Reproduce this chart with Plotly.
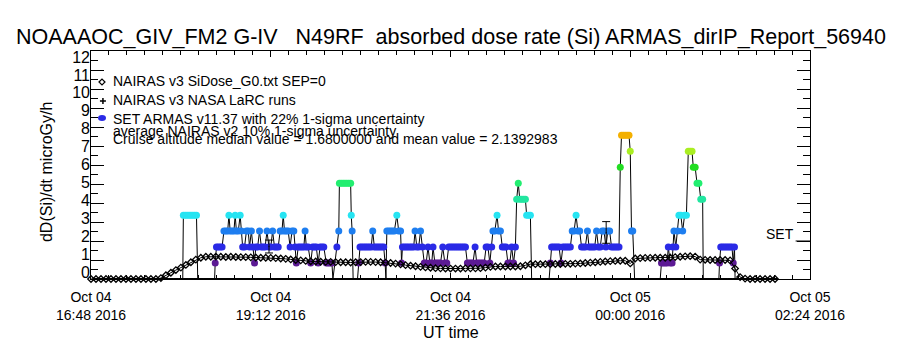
import pandas as pd
import plotly.graph_objects as go

# ---------------- data ----------------
T0 = pd.Timestamp("2016-10-04 16:48")

# x-axis ticks
tick_minutes = [0, 144, 288, 432, 576]
tick_labels = ["Oct 04<br>16:48 2016", "Oct 04<br>19:12 2016", "Oct 04<br>21:36 2016",
               "Oct 05<br>00:00 2016", "Oct 05<br>02:24 2016"]
y_ticks = list(range(0, 13))

# NAIRAS v3 SiDose_G0 (one value every 4 minutes from 16:48)
nairas_v3_step_min = 4
nairas_v3_values = [
    0, 0, 0, 0, 0, 0, 0, 0, 0, 0, 0, 0, 0, 0,
    0.05, 0.2, 0.33, 0.47, 0.6, 0.74, 0.88, 1.02, 1.12, 1.17,
    1.17, 1.18, 1.17, 1.16, 1.17, 1.16, 1.15,
    1.15, 1.14, 1.13, 1.12, 1.12, 1.11, 1.1, 1.08, 1.06, 1.03,
    1.0, 0.98, 0.95, 0.93, 0.92, 0.91, 0.9, 0.9, 0.89, 0.88,
    0.88, 0.87, 0.88, 0.89, 0.9, 0.9, 0.89, 0.88, 0.86, 0.84,
    0.81, 0.77, 0.73, 0.7, 0.67, 0.64, 0.61, 0.59, 0.57, 0.56,
    0.55, 0.55, 0.55, 0.55, 0.56, 0.56, 0.56, 0.57, 0.6, 0.64,
    0.66, 0.66, 0.66, 0.66, 0.66, 0.67, 0.72, 0.78, 0.78, 0.78,
    0.78, 0.78, 0.79, 0.79, 0.8, 0.8, 0.81, 0.82, 0.84, 0.86,
    0.88, 0.9, 0.92, 0.94, 0.95, 0.96, 0.96, 0.82, 1.08, 1.1,
    1.11, 1.11, 1.12, 1.12, 1.12, 1.13, 1.15, 1.17, 1.19, 1.2,
    1.18, 1.02, 1.01, 1.0, 1.0, 1.0, 1.0, 0.98, 0.55, 0.1,
    0.02, 0, 0, 0, 0, 0, 0,
]

# NAIRAS v3 NASA LaRC runs (zero along the whole record, every 4 minutes)
larc_minutes = list(range(4, 552, 4))
larc_values = [0.0] * len(larc_minutes)

# SET ARMAS v11.37 (minutes after 16:48, dose rate microGy/h)
set_minutes = [
    73.5, 74, 75.5, 77, 78.5, 80, 81.5, 83, 84.5, 85.5,
    99, 99.5, 100.5, 102, 103.5, 105, 106.5, 108, 109.5, 110.5, 111.5, 113, 114.5, 115.5,
    116.5, 118, 119.5, 120.5, 121.5, 123, 124.5, 126, 127, 128.5, 129.5, 131, 132, 133.5,
    135, 136.5, 138, 139.5, 141, 142.5, 144, 145.5, 147, 148.5, 150, 151.5, 153, 154,
    155, 156.5, 158, 159.5, 161, 162.5, 163.5, 164.5, 166, 167.5, 169, 170.5, 171.5,
    172.5, 174, 176, 177.5, 179, 180.5, 182, 183.5, 185, 186.5, 188.5, 190, 191.5, 193,
    193.8, 197, 198.5, 199, 200.5, 202, 203.5, 205, 206.5, 208, 208.5, 209.2, 210,
    213.5, 214.5, 215.5, 217, 218.5, 220, 221.5, 223, 224.5, 225.7, 227, 228.5, 230,
    231.5, 233, 234.5, 235.6, 236.3, 237, 238.5, 240, 241.5, 243, 245, 246.5, 248,
    248.8, 249.5, 251, 252.5, 254, 255.6, 257, 258.5, 259.6, 261, 262.5, 264, 265.5,
    267, 268.5, 270, 271.5, 273, 274, 275.5, 277, 278.5, 280, 281.8, 283.5, 285, 286.5,
    288, 289.5, 291, 292.5, 294, 295.5, 297, 298.5, 300, 301.5, 303, 304.5, 306, 307.7,
    309, 310.5, 312, 313.5, 315, 316.5, 318, 319.5, 321, 322, 323.5, 325.3, 326.5, 328,
    329.5, 331, 332.5, 334, 335.5, 337, 338.5, 340, 341, 342.3, 343.5, 345, 346.5, 348,
    349, 350.5, 352, 353,
    367, 368, 369, 370.5, 372, 373.5, 375, 376.5, 378, 379.5, 381, 382.5, 384, 385.5,
    387, 388.6, 390, 391.5, 393, 394.5, 396, 397.7, 399, 400.5, 402, 403.5, 405, 406.5,
    408, 409.5, 411, 412.5, 414, 415.5, 417, 418.5, 420, 421.5, 423, 424, 425, 426.5,
    428, 429.5, 431, 432, 433, 434, 435.5,
    456, 457, 458.5, 460, 461.5, 462.5, 464, 465.5, 466, 467, 468.5, 470, 471, 472.5,
    474, 475.5, 477, 478.5, 480, 481.5, 482.5, 484, 485.5, 487, 488.5, 490, 490.5,
    503, 503.5, 504.5, 506, 507.5, 509, 510.5, 512, 513.5, 514.5, 515.5, 516,
]
set_values = [
    0, 3.36, 3.36, 3.36, 3.36, 3.36, 3.36, 3.36, 3.36, 0,
    0, 0.84, 1.68, 1.68, 1.68, 1.68, 2.52, 2.52, 2.52, 3.36, 2.52, 2.52, 2.52, 3.36,
    2.52, 2.52, 3.36, 2.52, 1.68, 1.68, 2.52, 2.52, 1.68, 2.52, 1.68, 0.84, 1.68, 1.68,
    2.52, 1.68, 1.68, 1.68, 2.52, 1.68, 1.68, 2.52, 1.68, 1.68, 1.68, 2.52, 2.52, 3.36,
    2.52, 2.52, 2.52, 1.68, 2.52, 2.52, 1.68, 0.84, 1.68, 1.68, 1.68, 1.68, 2.52,
    1.68, 1.68, 0.84, 1.68, 1.68, 1.68, 0.84, 1.68, 1.68, 1.68, 0.84, 0.84, 0.84, 0.84,
    0, 1.68, 2.52, 5.04, 5.04, 5.04, 5.04, 5.04, 5.04, 5.04, 3.36, 2.52, 0,
    0, 0.84, 1.68, 1.68, 1.68, 1.68, 1.68, 1.68, 1.68, 2.52, 1.68, 1.68, 1.68,
    1.68, 1.68, 1.68, 0.84, 0, 2.52, 2.52, 2.52, 2.52, 2.52, 3.36, 2.52, 2.52,
    0.84, 1.68, 1.68, 1.68, 1.68, 1.68, 1.68, 1.68, 2.52, 1.68, 1.68, 2.52, 1.68,
    0.84, 0.84, 1.68, 0.84, 0.84, 1.68, 0.84, 0.84, 0.84, 0.84, 1.68, 0.84, 0.84, 1.68,
    1.68, 1.68, 1.68, 1.68, 1.68, 1.68, 1.68, 1.68, 1.68, 0.84, 0.84, 0.84, 0.84, 1.68,
    0.84, 0.84, 0.84, 0.84, 0.84, 1.68, 1.68, 0.84, 1.68, 2.52, 2.52, 3.36, 2.52, 2.52,
    1.68, 1.68, 1.68, 0.84, 0.84, 1.68, 0.84, 1.68, 4.2, 5.04, 4.2, 4.2, 4.2, 4.2,
    3.36, 3.36, 3.36, 0,
    0, 0.84, 1.68, 1.68, 1.68, 1.68, 1.68, 0.84, 1.68, 1.68, 1.68, 1.68, 1.68, 2.52,
    2.52, 3.36, 2.52, 2.52, 1.68, 1.68, 1.68, 2.52, 1.68, 1.68, 1.68, 1.68, 2.52, 1.68,
    1.68, 2.52, 2.52, 1.68, 2.52, 2.52, 1.68, 1.68, 1.68, 1.68, 1.68, 5.88, 7.56, 7.56,
    7.56, 7.56, 7.56, 6.72, 2.52, 2.52, 0,
    0, 0.84, 0.84, 0.84, 0.84, 1.68, 0.84, 0.84, 1.68, 2.52, 1.68, 2.52, 3.36, 3.36,
    2.52, 3.36, 3.36, 6.72, 6.72, 6.72, 5.88, 5.88, 5.04, 5.04, 4.2, 4.2, 0,
    0, 0.84, 1.68, 1.68, 1.68, 1.68, 1.68, 1.68, 1.68, 0.84, 1.68, 0,
]

# average NAIRAS v2 with 1-sigma uncertainty
nairas_v2_minutes = [142.6, 412.7]
nairas_v2_values = [1.71, 2.45]
nairas_v2_errors = [0.34, 0.57]

# colour table used for the SET points (value -> colour); zero readings are not drawn
set_colorscale = [
    [0.00, "rgba(0,0,0,0)"], [0.05, "rgba(0,0,0,0)"],
    [0.10, "#5c1a94"], [0.20, "#2a2ae6"], [0.30, "#1e7ef0"], [0.40, "#26e4f2"],
    [0.50, "#22e6a0"], [0.60, "#22ee70"], [0.70, "#22dd22"], [0.80, "#aaee22"],
    [0.90, "#f4b000"], [1.00, "#ff2000"],
]


def to_time(mins):
    return [(T0 + pd.Timedelta(minutes=float(m))).strftime("%Y-%m-%d %H:%M:%S") for m in mins]


nairas_v3_minutes = [i * nairas_v3_step_min for i in range(len(nairas_v3_values))]

FONT = "Liberation Sans"

fig = go.Figure()

fig.add_trace(go.Scatter(
    x=to_time(larc_minutes), y=larc_values, mode="markers", cliponaxis=False,
    marker=dict(symbol="line-ew", size=4, color="black", line=dict(color="black", width=2)),
    showlegend=False, hoverinfo="skip"))

fig.add_trace(go.Scatter(
    x=to_time(set_minutes), y=set_values, mode="lines+markers", cliponaxis=False,
    line=dict(color="black", width=1),
    marker=dict(size=7, color=set_values, colorscale=set_colorscale, cmin=0, cmax=8.4,
                line=dict(width=0)),
    showlegend=False))

fig.add_trace(go.Scatter(
    x=to_time(nairas_v3_minutes), y=nairas_v3_values, mode="lines+markers", cliponaxis=False,
    line=dict(color="black", width=1),
    marker=dict(symbol="diamond-open", size=5, color="black", line=dict(color="black", width=1.3)),
    showlegend=False))

fig.add_trace(go.Scatter(
    x=to_time(nairas_v2_minutes), y=nairas_v2_values, mode="markers",
    marker=dict(size=1, color="black"),
    error_y=dict(type="data", array=nairas_v2_errors, color="black", thickness=1, width=4),
    showlegend=False))

x_start = T0.strftime("%Y-%m-%d %H:%M:%S")
x_end = (T0 + pd.Timedelta(minutes=576)).strftime("%Y-%m-%d %H:%M:%S")

fig.update_layout(
    width=900, height=350,
    margin=dict(l=91, r=90, t=51, b=71),
    paper_bgcolor="white", plot_bgcolor="white",
    font=dict(family=FONT, color="black", size=15),
    xaxis=dict(
        type="date", range=[x_start, x_end],
        tickmode="array", tickvals=to_time(tick_minutes), ticktext=tick_labels,
        ticks="inside", ticklen=6, tickcolor="black", tickwidth=1,
        minor=dict(ticks="inside", ticklen=4, tickcolor="black", tickmode="linear",
                   tick0=x_start, dtick=864000),
        showline=True, linecolor="black", linewidth=1, mirror="ticks",
        showgrid=False, zeroline=False, tickfont=dict(size=14, family=FONT),
        ticklabelstandoff=5,
    ),
    # data axis: ticks only
    yaxis=dict(
        range=[0, 12], tickmode="array", tickvals=y_ticks, showticklabels=False,
        ticks="inside", ticklen=13, tickcolor="black", tickwidth=1,
        minor=dict(ticks="inside", ticklen=7, tickcolor="black", dtick=0.5, tick0=0),
        showline=True, linecolor="black", linewidth=1, mirror="ticks",
        showgrid=False, zeroline=False,
    ),
    # label axis: the reference prints its value labels slightly inside the frame
    yaxis2=dict(
        overlaying="y", side="left", range=[-0.391, 12.334], tickmode="array",
        tickvals=y_ticks, ticks="", showline=False, showgrid=False, zeroline=False,
        tickfont=dict(size=16, family=FONT),
    ),
)

# invisible trace to activate the label axis
fig.add_trace(go.Scatter(x=[x_start], y=[0], yaxis="y2", mode="markers",
                         marker=dict(size=0, opacity=0), showlegend=False, hoverinfo="skip"))

NB = "\u00a0"
ann = []
ann.append(dict(text="NOAAAOC_GIV_FM2 G-IV" + NB * 3 + "N49RF" + NB * 2 +
                "absorbed dose rate (Si) ARMAS_dirIP_Report_56940",
                x=0.5, y=1.0614, xref="paper", yref="paper", xanchor="center", yanchor="middle",
                showarrow=False, font=dict(size=21.5, family=FONT)))
ann.append(dict(text="dD(Si)/dt microGy/h", x=-0.0626, y=0.469, xref="paper", yref="paper",
                xanchor="center", yanchor="middle", textangle=-90, showarrow=False,
                font=dict(size=16, family=FONT)))
ann.append(dict(text="UT time", x=0.5, y=-0.2325, xref="paper", yref="paper",
                xanchor="center", yanchor="middle", showarrow=False, font=dict(size=16, family=FONT)))
ann.append(dict(text="SET", x=1, y=2, xref="paper", yref="y", xanchor="right", yanchor="bottom",
                xshift=-14, yshift=-3, showarrow=False, font=dict(size=14, family=FONT)))

legend_lines = [
    ("NAIRAS v3 SiDose_G0.txt SEP=0", 0.868),
    ("NAIRAS v3 NASA LaRC runs", 0.785),
    ("SET ARMAS v11.37 with 22% 1-sigma uncertainty", 0.702),
    ("average NAIRAS v2 10% 1-sigma uncertainty", 0.648),
    ("Cruise altitude median value = 1.6800000 and mean value = 2.1392983", 0.614),
]
for txt, yy in legend_lines:
    ann.append(dict(text=txt, x=0.0278, y=yy, xref="paper", yref="paper", xanchor="left",
                    yanchor="middle", showarrow=False, font=dict(size=14, family=FONT)))
fig.update_layout(annotations=ann)

shapes = [
    dict(type="path", xref="paper", yref="paper", xsizemode="pixel", ysizemode="pixel",
         xanchor=0.0153, yanchor=0.864, path="M-3,0 L0,3 L3,0 L0,-3 Z",
         line=dict(color="black", width=1.2)),
    dict(type="path", xref="paper", yref="paper", xsizemode="pixel", ysizemode="pixel",
         xanchor=0.0166, yanchor=0.781, path="M-3,0 L3,0 M0,-3 L0,3",
         line=dict(color="black", width=1.5)),
    dict(type="circle", xref="paper", yref="paper", xsizemode="pixel", ysizemode="pixel",
         xanchor=0.0153, yanchor=0.706, x0=-4, x1=4, y0=-3, y1=3,
         fillcolor="#2a2ae6", line=dict(width=0)),
    dict(type="line", xref="paper", yref="y", x0=0.98, x1=1, y0=2, y1=2,
         line=dict(color="black", width=1)),
]
fig.update_layout(shapes=shapes)

fig.write_html("out.html")
